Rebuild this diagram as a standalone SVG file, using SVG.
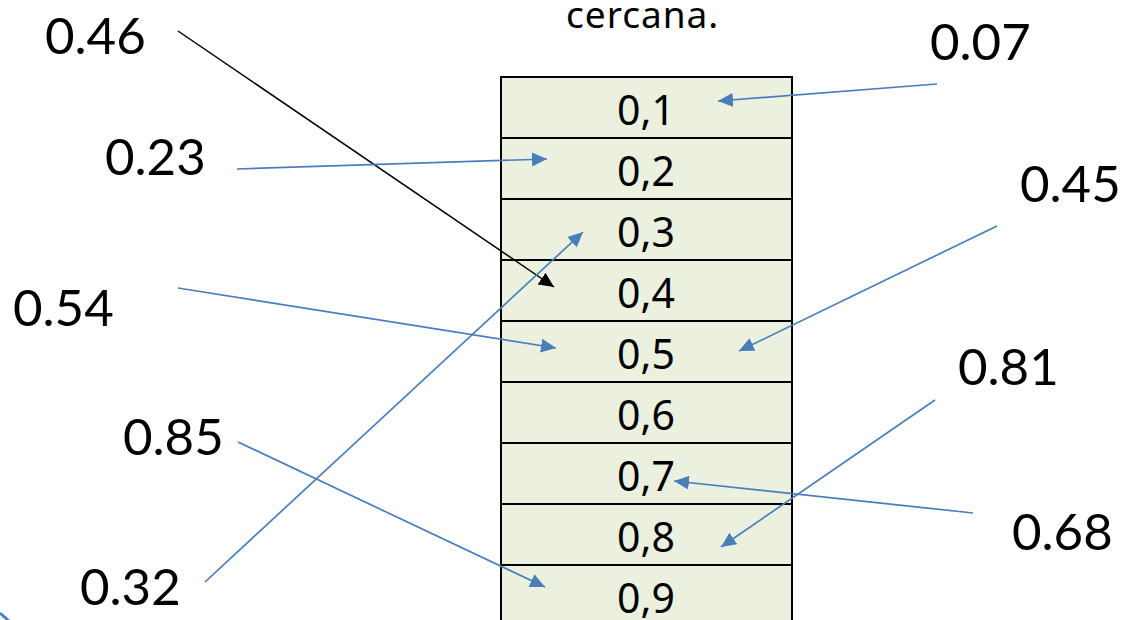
<svg xmlns="http://www.w3.org/2000/svg" width="1124" height="620" viewBox="0 0 1124 620">
  <style>
    .lbl { font-family: Lato, "Open Sans", sans-serif; font-size: 51px; fill: #000; }
    .cell rect { fill: #EBF1DE; stroke: #000; stroke-width: 2; }
    .cell text { font-family: "Noto Sans", "DejaVu Sans", sans-serif; font-size: 41px; fill: #000; text-anchor: middle; }
    .title { font-family: "Noto Sans", "DejaVu Sans", sans-serif; font-size: 37px; fill: #000; letter-spacing: 1px; }
    .blue { stroke: #4A7EBB; stroke-width: 1.7; fill: none; marker-end: url(#ab); }
    .black { stroke: #000; stroke-width: 1.5; fill: none; marker-end: url(#ak); }
  </style>
  <defs>
    <marker id="ab" markerUnits="userSpaceOnUse" markerWidth="16" markerHeight="14" refX="15" refY="7" orient="auto">
      <path d="M0,0 L15,7 L0,14 z" fill="#4A7EBB"/>
    </marker>
    <marker id="ak" markerUnits="userSpaceOnUse" markerWidth="16" markerHeight="14" refX="15" refY="7" orient="auto">
      <path d="M0,0 L15,7 L0,14 z" fill="#000"/>
    </marker>
  </defs>
  <rect width="1124" height="620" fill="#fff"/>

  <text class="title" x="566" y="28">cercana.</text>

  <g id="table" class="cell">
    <g id="c1"><rect x="501" y="77" width="291" height="61"/><text x="646" y="125">0,1</text></g>
    <g id="c2"><rect x="501" y="138" width="291" height="61"/><text x="646" y="186">0,2</text></g>
    <g id="c3"><rect x="501" y="199" width="291" height="61"/><text x="646" y="247">0,3</text></g>
    <g id="c4"><rect x="501" y="260" width="291" height="61"/><text x="646" y="308">0,4</text></g>
    <g id="c5"><rect x="501" y="321" width="291" height="61"/><text x="646" y="369">0,5</text></g>
    <g id="c6"><rect x="501" y="382" width="291" height="61"/><text x="646" y="430">0,6</text></g>
    <g id="c7"><rect x="501" y="443" width="291" height="61"/><text x="646" y="491">0,7</text></g>
    <g id="c8"><rect x="501" y="504" width="291" height="61"/><text x="646" y="552">0,8</text></g>
    <g id="c9"><rect x="501" y="565" width="291" height="61"/><text x="646" y="613">0,9</text></g>
  </g>

  <g id="labels">
    <g id="n046"><text class="lbl" x="45" y="54">0.46</text></g>
    <g id="n023"><text class="lbl" x="105" y="175">0.23</text></g>
    <g id="n007"><text class="lbl" x="930" y="60">0.07</text></g>
    <g id="n045"><text class="lbl" x="1020" y="202">0.45</text></g>
    <g id="n054"><text class="lbl" x="13" y="326">0.54</text></g>
    <g id="n085"><text class="lbl" x="123" y="455">0.85</text></g>
    <g id="n032"><text class="lbl" x="80" y="605">0.32</text></g>
    <g id="n081"><text class="lbl" x="958" y="385">0.81</text></g>
    <g id="n068"><text class="lbl" x="1012" y="550">0.68</text></g>
  </g>

  <g id="connectors">
    <line class="black" x1="178" y1="31" x2="554" y2="287"/>
    <line class="blue" x1="937" y1="84" x2="718" y2="101"/>
    <line class="blue" x1="237" y1="169" x2="547" y2="159"/>
    <line class="blue" x1="997" y1="226" x2="739" y2="351"/>
    <line class="blue" x1="178" y1="288" x2="556" y2="348"/>
    <line class="blue" x1="205" y1="582" x2="583" y2="232"/>
    <line class="blue" x1="238" y1="442" x2="545" y2="587"/>
    <line class="blue" x1="935" y1="400" x2="721" y2="547"/>
    <line class="blue" x1="973" y1="513" x2="674" y2="481"/>
    <line x1="0" y1="613" x2="9" y2="621" stroke="#4A7EBB" stroke-width="3"/>
  </g>
</svg>
